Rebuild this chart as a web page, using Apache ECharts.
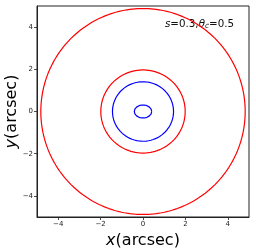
<!DOCTYPE html>
<html><head><meta charset="utf-8">
<script src="https://cdn.jsdelivr.net/npm/echarts@6/dist/echarts.min.js"></script>
<style>html,body{margin:0;padding:0;background:#fff}#c{width:256px;height:251px}</style>
</head><body><div id="c"></div>
<script>
// Curves: centre, x-radius, y-radius, colour
const curveNames = ['outer critical', 'inner critical', 'outer caustic', 'inner caustic'];
const radiusX = [4.82, 1.99, 1.44, 0.41];
const radiusY = [4.88, 1.97, 1.41, 0.31];
const curveColors = ['#ff0000', '#ff0000', '#0000ff', '#0000ff'];
const xTicks = [-4, -2, 0, 2, 4];
const yTicks = [-4, -2, 0, 2, 4];

const N = 240;
function ellipse(rx, ry) {
  const pts = [];
  for (let i = 0; i <= N; i++) {
    const t = 2 * Math.PI * i / N;
    pts.push([rx * Math.cos(t), ry * Math.sin(t)]);
  }
  return pts;
}
const fmt = v => (v < 0 ? '\u2212' + Math.abs(v) : String(v));
const font = 'DejaVu Sans';
const chart = echarts.init(document.getElementById('c'), null, {renderer: 'canvas'});
const axisCommon = {
  min: -5, max: 5, interval: 1,
  axisLine: {show: true, onZero: false, lineStyle: {color: '#222', width: 1}},
  axisTick: {show: true, length: 3, lineStyle: {color: '#222', width: 0.8},
    customValues: xTicks},
  axisLabel: {fontFamily: font, fontSize: 7, color: '#222', margin: 4,
    customValues: xTicks, formatter: fmt},
  splitLine: {show: false},
  nameLocation: 'middle',
  nameMoveOverlap: false,
  nameTextStyle: {fontFamily: font, fontSize: 16, color: '#000',
    rich: {i: {fontFamily: font, fontSize: 16, fontStyle: 'italic', color: '#000'},
           n: {fontFamily: font, fontSize: 16, color: '#000'}}}
};
chart.setOption({
  animation: false,
  grid: {left: 37, right: 7, top: 6, bottom: 34, show: true, borderColor: '#222', borderWidth: 1,
    containLabel: false, outerBoundsMode: 'none'},
  xAxis: Object.assign({}, axisCommon, {type: 'value', name: '{i|x}{n|(arcsec)}', nameGap: 16}),
  yAxis: Object.assign({}, axisCommon, {type: 'value', name: '{i|y}{n|(arcsec)}', nameGap: 17,
    axisTick: Object.assign({}, axisCommon.axisTick, {customValues: yTicks}),
    axisLabel: Object.assign({}, axisCommon.axisLabel, {customValues: yTicks})}),
  series: curveNames.map((n, k) => ({
    name: n, type: 'line', showSymbol: false, smooth: false,
    data: ellipse(radiusX[k], radiusY[k]),
    lineStyle: {color: curveColors[k], width: 1.2},
    silent: true
  })),
  graphic: [{
    type: 'text', left: 165, top: 19,
    style: {
      text: '{i|s}{n|=0.3,}{i|θ}{s|c}{n|=0.5}',
      rich: {
        i: {fontFamily: font, fontSize: 10.3, fontStyle: 'italic', fill: '#111'},
        n: {fontFamily: font, fontSize: 10.3, fill: '#111'},
        s: {fontFamily: font, fontSize: 7.5, fontStyle: 'italic', fill: '#111', padding: [5, 0, 0, 0]}
      }
    }
  }]
});
</script></body></html>
